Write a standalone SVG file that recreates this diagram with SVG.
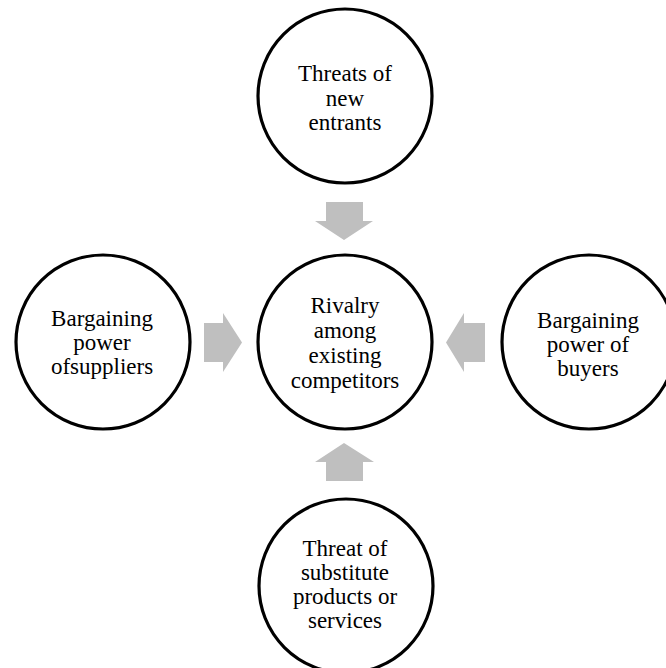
<svg xmlns="http://www.w3.org/2000/svg" width="666" height="668" viewBox="0 0 666 668">
  <style>
    .node circle { fill: #ffffff; stroke: #000000; stroke-width: 3.2; }
    .node text { font-family: "Liberation Serif", "Times New Roman", serif; font-size: 23px; fill: #000000; text-anchor: middle; }
    .arrow { fill: #bfbfbf; stroke: none; }
  </style>
  <rect width="666" height="668" fill="#ffffff"/>

  <!-- block arrows pointing at the central force -->
  <g id="connectors">
    <path class="arrow" d="M326,202 H363 V221 H373 L344,240 L315,221 H326 Z"/>
    <path class="arrow" d="M204,323 H223 V313 L242,342.5 L223,372 V362 H204 Z"/>
    <path class="arrow" d="M485,323 H464 V313 L446,342.5 L464,372 V362 H485 Z"/>
    <path class="arrow" d="M326,481 V462 H315 L344,443 L374,462 H363 V481 Z"/>
  </g>

  <g id="new-entrants" class="node">
    <circle cx="345" cy="96" r="87"/>
    <text x="345" y="81">Threats of</text>
    <text x="345" y="105.5">new</text>
    <text x="345" y="130">entrants</text>
  </g>

  <g id="rivalry" class="node">
    <circle cx="345" cy="342" r="87"/>
    <text x="345" y="313">Rivalry</text>
    <text x="345" y="338">among</text>
    <text x="345" y="363">existing</text>
    <text x="345" y="388">competitors</text>
  </g>

  <g id="suppliers" class="node">
    <circle cx="103" cy="342" r="87"/>
    <text x="102" y="326">Bargaining</text>
    <text x="102" y="350">power</text>
    <text x="102" y="374">ofsuppliers</text>
  </g>

  <g id="buyers" class="node">
    <circle cx="589" cy="342" r="87"/>
    <text x="588" y="328">Bargaining</text>
    <text x="588" y="352">power of</text>
    <text x="588" y="376">buyers</text>
  </g>

  <g id="substitutes" class="node">
    <circle cx="346" cy="586" r="87"/>
    <text x="345" y="556">Threat of</text>
    <text x="345" y="580">substitute</text>
    <text x="345" y="604">products or</text>
    <text x="345" y="628">services</text>
  </g>
</svg>
